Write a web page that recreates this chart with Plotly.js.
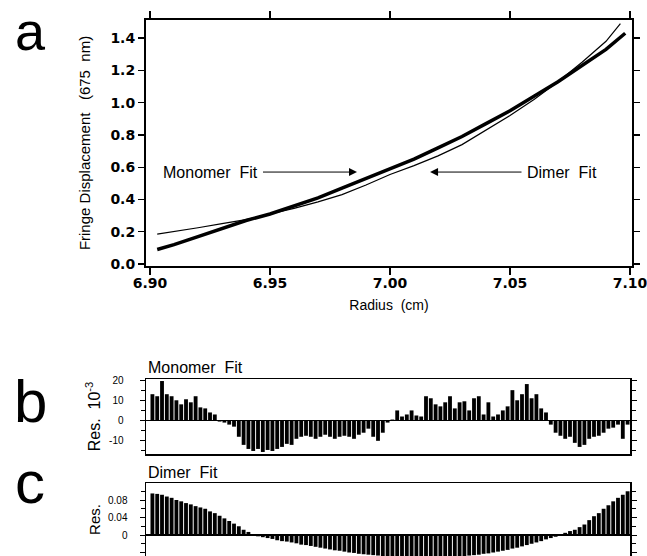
<!DOCTYPE html>
<html>
<head>
<meta charset="utf-8">
<script src="https://cdn.plot.ly/plotly-3.0.1.min.js"></script>
<style>html,body{margin:0;padding:0;background:#fff;}#chart{width:647px;height:556px;}</style>
</head>
<body>
<div id="chart"></div>
<script>
// ---- Panel a: fringe displacement vs radius ----
const radiusData = [6.903, 6.910, 6.920, 6.930, 6.940, 6.950, 6.960, 6.970, 6.980, 6.990, 7.000, 7.010, 7.020, 7.030, 7.040, 7.050, 7.060, 7.070, 7.080, 7.090, 7.098];
const fringeData = [0.09, 0.12, 0.17, 0.22, 0.27, 0.31, 0.36, 0.41, 0.47, 0.53, 0.59, 0.65, 0.72, 0.79, 0.87, 0.95, 1.04, 1.13, 1.23, 1.33, 1.43];
const radiusDimerFit = [6.903, 6.910, 6.920, 6.930, 6.940, 6.950, 6.960, 6.970, 6.980, 6.990, 7.000, 7.010, 7.020, 7.030, 7.040, 7.050, 7.060, 7.070, 7.080, 7.090, 7.096];
const fringeDimerFit = [0.185, 0.20, 0.225, 0.25, 0.275, 0.31, 0.345, 0.385, 0.43, 0.49, 0.555, 0.61, 0.67, 0.74, 0.83, 0.92, 1.02, 1.13, 1.25, 1.38, 1.49];

// ---- Residual radii (panels b and c) ----
const radiusRes = [6.901, 6.903, 6.905, 6.907, 6.909, 6.911, 6.913, 6.915, 6.917, 6.919,
  6.921, 6.923, 6.925, 6.927, 6.929, 6.931, 6.933, 6.935, 6.937, 6.939,
  6.941, 6.943, 6.945, 6.947, 6.949, 6.951, 6.953, 6.955, 6.957, 6.959,
  6.961, 6.963, 6.965, 6.967, 6.969, 6.971, 6.973, 6.975, 6.977, 6.979,
  6.981, 6.983, 6.985, 6.987, 6.989, 6.991, 6.993, 6.995, 6.997, 6.999,
  7.001, 7.003, 7.005, 7.007, 7.009, 7.011, 7.013, 7.015, 7.017, 7.019,
  7.021, 7.023, 7.025, 7.027, 7.029, 7.031, 7.033, 7.035, 7.037, 7.039,
  7.041, 7.043, 7.045, 7.047, 7.049, 7.051, 7.053, 7.055, 7.057, 7.059,
  7.061, 7.063, 7.065, 7.067, 7.069, 7.071, 7.073, 7.075, 7.077, 7.079,
  7.081, 7.083, 7.085, 7.087, 7.089, 7.091, 7.093, 7.095, 7.097, 7.099];

// Monomer fit residuals (units of 10^-3)
const resMonomer = [13, 12, 19.5, 13, 12, 10, 8, 10.5, 9, 12,
  6.5, 6, 4, 3, -0.5, -1, -2, -3, -8, -12,
  -14, -15, -14, -15.5, -14.5, -15, -14, -13, -11.5, -12,
  -9, -8, -7.5, -8, -9, -8, -7, -8, -9, -8,
  -7.5, -8, -9, -7, -6, -4, -8, -10, -6, -1,
  0.5, 5, 2, 3, 5, 2.5, 2, 12, 11, 8,
  7, 9, 12, 6, 9, 9.5, 5, 11, 12, 3,
  9, 2, 3, 5, 7, 15, 10, 13, 18, 11,
  13, 6, 4, -2, -6, -7.5, -9, -8, -11, -13,
  -12, -9, -8, -7.5, -6, -4, -3.5, -2, -9, -2];

// Dimer fit residuals
const resDimer = [0.095, 0.094, 0.092, 0.088, 0.085, 0.080, 0.077, 0.073, 0.070, 0.066,
  0.063, 0.060, 0.054, 0.050, 0.044, 0.038, 0.032, 0.026, 0.020, 0.012,
  0.007, 0.002, -0.003, -0.005, -0.007, -0.009, -0.012, -0.014, -0.015, -0.017,
  -0.019, -0.022, -0.023, -0.025, -0.027, -0.029, -0.031, -0.033, -0.035, -0.036,
  -0.038, -0.040, -0.041, -0.043, -0.044, -0.045, -0.046, -0.047, -0.048, -0.049,
  -0.050, -0.051, -0.051, -0.052, -0.052, -0.052, -0.053, -0.052, -0.052, -0.052,
  -0.051, -0.051, -0.050, -0.050, -0.049, -0.048, -0.047, -0.046, -0.045, -0.043,
  -0.042, -0.040, -0.038, -0.036, -0.034, -0.031, -0.029, -0.026, -0.023, -0.020,
  -0.017, -0.014, -0.010, -0.007, -0.004, 0.000, 0.005, 0.009, 0.012, 0.018,
  0.024, 0.034, 0.043, 0.050, 0.060, 0.068, 0.077, 0.085, 0.092, 0.100];

// Tick labels
const xTicksA = [6.90, 6.95, 7.00, 7.05, 7.10];
const yTicksA = [0.0, 0.2, 0.4, 0.6, 0.8, 1.0, 1.2, 1.4];
const yTickValsB = [-10, 0, 10, 20];
const yTickTextB = ['-10', '0', '10', '20'];
const yTickValsC = [-0.04, 0, 0.04, 0.08];
const yTickTextC = ['-0.04', '0', '0.04', '0.08'];

const FONT = 'Liberation Sans, Arial, Helvetica, sans-serif';
const BOLDFONT = 'DejaVu Sans, Verdana, sans-serif';
const NB = '\u00A0';

const traces = [
  {x: radiusDimerFit, y: fringeDimerFit, type: 'scatter', mode: 'lines',
   line: {color: '#000', width: 1.2}, xaxis: 'x', yaxis: 'y', name: 'Dimer Fit'},
  {x: radiusData, y: fringeData, type: 'scatter', mode: 'lines',
   line: {color: '#000', width: 3.5}, xaxis: 'x', yaxis: 'y', name: 'Data / Monomer Fit'},
  {x: radiusRes, y: resMonomer, type: 'bar', marker: {color: '#000', line: {width: 0}},
   xaxis: 'x2', yaxis: 'y2', name: 'Monomer residuals'},
  {x: radiusRes, y: resDimer, type: 'bar', marker: {color: '#000', line: {width: 0}},
   xaxis: 'x3', yaxis: 'y3', name: 'Dimer residuals'}
];

const W = 647, H = 556;
const px = v => v / W;
const py = v => 1 - v / H;
const xPix = v => 6.90 + (v - 150) / 2400;

const layout = {
  width: W, height: H,
  margin: {l: 0, r: 0, t: 0, b: 0},
  paper_bgcolor: '#fff', plot_bgcolor: '#fff',
  showlegend: false,
  bargap: 0.2,
  font: {family: FONT, color: '#000'},
  xaxis: {
    domain: [px(146), px(632)], anchor: 'y',
    range: [6.89833, 7.10083],
    tickvals: xTicksA, tickformat: '.2f',
    ticks: 'outside', ticklen: 7, tickwidth: 1.2, tickcolor: '#000',
    ticklabelstandoff: -4, ticklabeloverflow: 'allow',
    showline: true, linewidth: 2, linecolor: '#000', mirror: 'ticks',
    showgrid: false, zeroline: false,
    tickfont: {family: BOLDFONT, size: 14, weight: 'bold'},
    title: {text: 'Radius' + NB + NB + '(cm)', font: {family: FONT, size: 14}, standoff: 10}
  },
  yaxis: {
    domain: [py(266), py(20)], anchor: 'x',
    range: [-0.012, 1.512],
    tickvals: yTicksA, tickformat: '.1f',
    ticks: 'outside', ticklen: 6, tickwidth: 1.2, tickcolor: '#000',
    showline: true, linewidth: 2, linecolor: '#000', mirror: 'ticks',
    showgrid: false, zeroline: false,
    tickfont: {family: BOLDFONT, size: 14, weight: 'bold'},
    title: {text: 'Fringe Displacement' + NB + NB + NB + '(675' + NB + NB + 'nm)', font: {family: FONT, size: 15}, standoff: 16}
  },
  xaxis2: {
    domain: [px(146), px(630)], anchor: 'y2',
    range: [6.89833, 7.1],
    showticklabels: false, ticks: '',
    showline: true, linewidth: 1.5, linecolor: '#000', mirror: true,
    showgrid: false, zeroline: false
  },
  yaxis2: {
    domain: [py(454), py(379)], anchor: 'x2',
    range: [-16.5, 20.5],
    tickvals: yTickValsB, ticktext: yTickTextB,
    ticks: 'outside', ticklen: 5, tickwidth: 1, tickcolor: '#000',
    ticklabelstandoff: 14,
    minor: {dtick: 5, ticks: 'outside', ticklen: 4, tickcolor: '#000', tickwidth: 1, showgrid: false},
    showline: true, linewidth: 1.5, linecolor: '#000', mirror: 'ticks',
    showgrid: false, zeroline: true, zerolinecolor: '#000', zerolinewidth: 1.2,
    tickfont: {family: FONT, size: 10},
    title: {text: 'Res.' + NB + ' 10<sup>-3</sup>', font: {family: FONT, size: 16}, standoff: 4}
  },
  xaxis3: {
    domain: [px(146), px(630)], anchor: 'y3', side: 'top',
    range: [6.89833, 7.1],
    showticklabels: false, ticks: '',
    showline: true, linewidth: 1.5, linecolor: '#000', mirror: false,
    showgrid: false, zeroline: false
  },
  yaxis3: {
    domain: [0, py(483)], anchor: 'x3',
    range: [-0.048, 0.1189],
    tickvals: yTickValsC, ticktext: yTickTextC,
    ticks: 'outside', ticklen: 5, tickwidth: 1, tickcolor: '#000',
    ticklabelstandoff: 10,
    minor: {dtick: 0.02, ticks: 'outside', ticklen: 4, tickcolor: '#000', tickwidth: 1, showgrid: false},
    showline: true, linewidth: 1.5, linecolor: '#000', mirror: 'ticks',
    showgrid: false, zeroline: true, zerolinecolor: '#000', zerolinewidth: 1.2,
    tickfont: {family: FONT, size: 10},
    title: {text: 'Res.', font: {family: FONT, size: 15}, standoff: 4}
  },
  annotations: [
    {text: 'a', xref: 'paper', yref: 'paper', x: px(31), y: 1, xanchor: 'center', yanchor: 'top',
     borderpad: 0, showarrow: false, font: {family: FONT, size: 54}},
    {text: 'b', xref: 'paper', yref: 'paper', x: px(30), y: py(402), xanchor: 'center', yanchor: 'middle',
     showarrow: false, font: {family: FONT, size: 60}},
    {text: 'c', xref: 'paper', yref: 'paper', x: px(30), y: py(482), xanchor: 'center', yanchor: 'middle',
     showarrow: false, font: {family: FONT, size: 60}},
    {text: 'Monomer' + NB + NB + 'Fit', xref: 'paper', yref: 'paper', x: px(146), y: py(367), xanchor: 'left', yanchor: 'middle',
     showarrow: false, font: {family: FONT, size: 16}},
    {text: 'Dimer' + NB + NB + 'Fit', xref: 'paper', yref: 'paper', x: px(146), y: py(472), xanchor: 'left', yanchor: 'middle',
     showarrow: false, font: {family: FONT, size: 16}},
    {text: 'Monomer' + NB + NB + 'Fit', xref: 'x', yref: 'y', x: 6.98625, y: 0.57,
     axref: 'x', ayref: 'y', ax: xPix(210), ay: 0.57,
     showarrow: true, arrowhead: 2, arrowsize: 1.6, arrowwidth: 1, arrowcolor: '#000', startstandoff: 4,
     font: {family: FONT, size: 16}},
    {text: 'Dimer' + NB + NB + 'Fit', xref: 'x', yref: 'y', x: 7.0167, y: 0.57,
     axref: 'x', ayref: 'y', ax: xPix(562), ay: 0.57,
     showarrow: true, arrowhead: 2, arrowsize: 1.6, arrowwidth: 1, arrowcolor: '#000', startstandoff: 4,
     font: {family: FONT, size: 16}}
  ]
};

Plotly.newPlot('chart', traces, layout, {staticPlot: true, displayModeBar: false});
</script>
</body>
</html>
